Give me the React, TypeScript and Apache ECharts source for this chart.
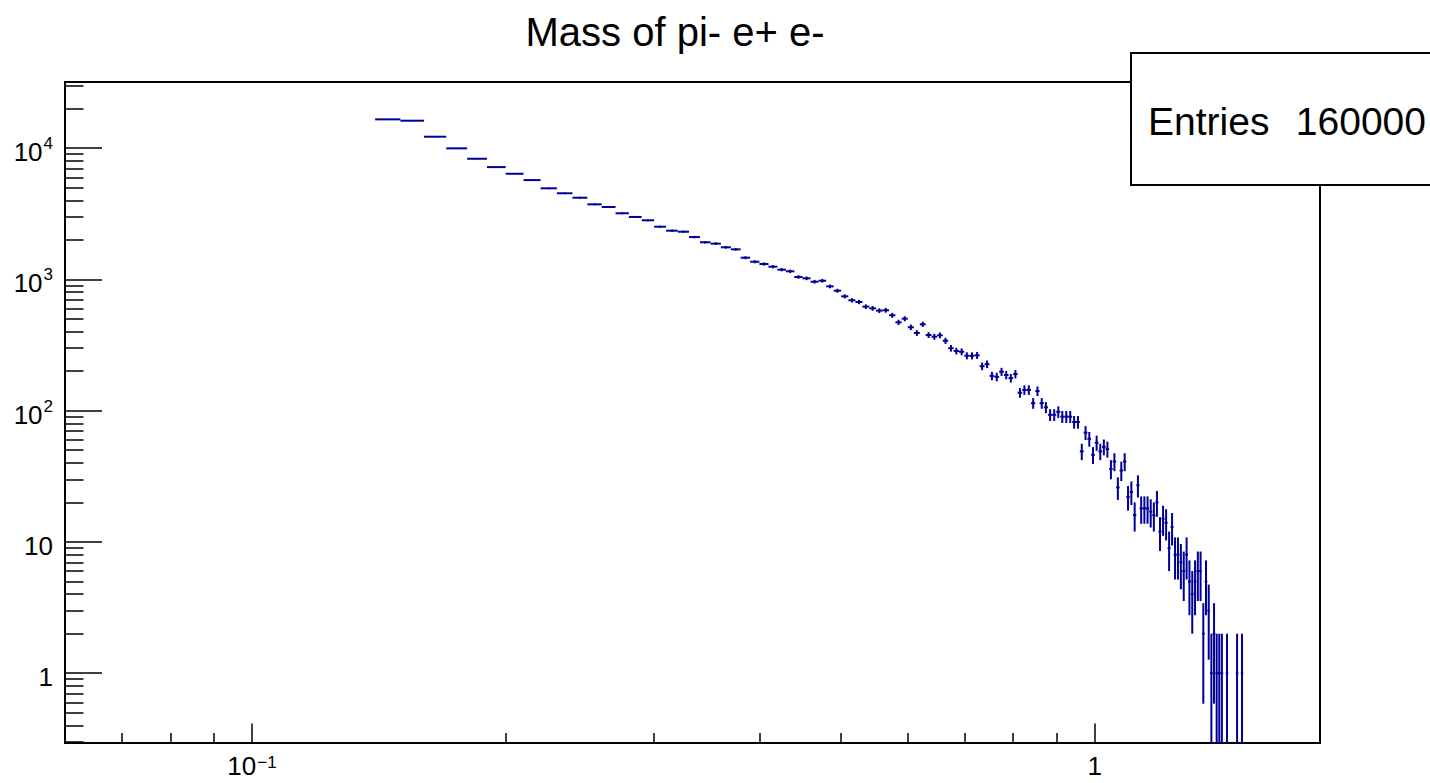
import React, { useEffect, useRef } from 'react';
import * as echarts from 'echarts';

const TITLE = 'Mass of pi- e+ e-';
const STATS_LABEL = 'Entries';
const STATS_VALUE = '160000';

// histogram binning (GeV), constant width bins starting at threshold
const BIN_START = 0.14;
const BIN_WIDTH = 0.01;
// bin contents, bin 1 = [0.14, 0.15)
const COUNTS = [
  16560, 16180, 12220, 9960, 8300, 7170, 6380, 5710, 4940, 4530,
  4190, 3730, 3560, 3190, 2990, 2820, 2520, 2350, 2308, 2102,
  1918, 1872, 1756, 1694, 1463, 1363, 1310, 1250, 1186, 1153,
  1043, 1019, 960, 977, 885, 820, 743, 693, 673, 620,
  602, 578, 582, 533, 471, 502, 432, 391, 455, 377,
  366, 375, 341, 299, 285, 281, 262, 262, 264, 218,
  226, 184, 181, 198, 187, 177, 190, 137, 144, 144,
  114, 141, 114, 106, 93, 93, 98, 90, 90, 90,
  82, 82, 49, 68, 61, 46, 57, 49, 53, 51,
  36, 41, 26, 35, 41, 22, 24, 16, 27, 18,
  18, 18, 17, 16, 20, 12, 15, 14, 9, 13,
  8, 8, 7, 6, 8, 5, 4, 5, 6, 6,
  2, 5, 3, 1, 2, 1, 1, 1, 0, 1,
  0, 0, 0, 1, 0, 1,
];

const X_RANGE = [0.06, 1.85];
const Y_RANGE = [0.294, 31900];
const X_MAJOR = [0.1, 1];
const X_MINOR = [0.07, 0.08, 0.09, 0.2, 0.3, 0.4, 0.5, 0.6, 0.7, 0.8, 0.9];
const Y_MAJOR = [1, 10, 100, 1000, 10000];
const Y_MINOR = [
  0.3, 0.4, 0.5, 0.6, 0.7, 0.8, 0.9,
  2, 3, 4, 5, 6, 7, 8, 9,
  20, 30, 40, 50, 60, 70, 80, 90,
  200, 300, 400, 500, 600, 700, 800, 900,
  2000, 3000, 4000, 5000, 6000, 7000, 8000, 9000,
  20000, 30000,
];

const FONT = '"Liberation Sans", Arial, Helvetica, sans-serif';
const INK = '#000099';

function powLabel(v: number): string {
  const e = Math.round(Math.log10(v));
  if (e === 0) return '{b|1}';
  if (e === 1) return '{b|10}';
  return '{b|10}{s|' + (e < 0 ? '\u2212' + String(-e) : String(e)) + '}';
}

const richY = {
  b: { fontSize: 26, fontFamily: FONT, color: '#000', lineHeight: 30, verticalAlign: 'bottom' },
  s: { fontSize: 17, fontFamily: FONT, color: '#000', lineHeight: 17, verticalAlign: 'top', padding: [0, 0, 0, 1] },
};

const richX = {
  b: { fontSize: 26, fontFamily: FONT, color: '#000', lineHeight: 18, verticalAlign: 'bottom' },
  s: { fontSize: 17, fontFamily: FONT, color: '#000', lineHeight: 12, verticalAlign: 'bottom', padding: [0, 0, 8, 1] },
};

export default function App() {
  const ref = useRef<HTMLDivElement>(null);

  useEffect(() => {
    if (!ref.current) return;
    const chart = echarts.init(ref.current, null, { renderer: 'svg' });

    const data: number[][] = [];
    COUNTS.forEach((n, i) => {
      if (n > 0) {
        const lo = +(BIN_START + i * BIN_WIDTH).toFixed(4);
        const hi = +(lo + BIN_WIDTH).toFixed(4);
        data.push([lo, hi, n]);
      }
    });

    const logAxisBase = {
      type: 'log' as const,
      logBase: 10,
      axisLine: { show: false },
      splitLine: { show: false },
      minorTick: { show: false },
    };

    chart.setOption({
      animation: false,
      backgroundColor: '#fff',
      grid: {
        left: 65, right: 110, top: 82, bottom: 40,
        containLabel: false, outerBoundsMode: 'none',
        show: true, borderColor: '#000', borderWidth: 2, backgroundColor: '#fff',
      },
      xAxis: [
        {
          ...logAxisBase,
          min: X_RANGE[0], max: X_RANGE[1], position: 'bottom',
          axisTick: { show: true, inside: true, length: 19.5, customValues: X_MAJOR, lineStyle: { color: '#000', width: 1.5 } },
          axisLabel: {
            show: true, customValues: X_MAJOR, margin: 18, verticalAlign: 'top',
            formatter: (v: number) => powLabel(v), rich: richX,
          },
        },
        {
          ...logAxisBase,
          min: X_RANGE[0], max: X_RANGE[1], position: 'bottom', offset: 0,
          axisTick: { show: true, inside: true, length: 10, customValues: X_MINOR, lineStyle: { color: '#000', width: 1.5 } },
          axisLabel: { show: false },
        },
      ],
      yAxis: [
        {
          ...logAxisBase,
          min: Y_RANGE[0], max: Y_RANGE[1], position: 'left',
          axisTick: { show: true, inside: true, length: 37, customValues: Y_MAJOR, lineStyle: { color: '#000', width: 1.5 } },
          axisLabel: {
            show: true, customValues: Y_MAJOR, margin: 12, padding: [4, 0, 0, 0],
            formatter: (v: number) => powLabel(v), rich: richY,
          },
        },
        {
          ...logAxisBase,
          min: Y_RANGE[0], max: Y_RANGE[1], position: 'left', offset: 0,
          axisTick: { show: true, inside: true, length: 18.5, customValues: Y_MINOR, lineStyle: { color: '#000', width: 1.5 } },
          axisLabel: { show: false },
        },
      ],
      series: [
        {
          type: 'custom',
          name: TITLE,
          xAxisIndex: 0,
          yAxisIndex: 0,
          clip: true,
          encode: { x: [0, 1], y: 2 },
          data,
          renderItem: (params: any, api: any) => {
            const lo = api.value(0);
            const hi = api.value(1);
            const n = api.value(2);
            const c = (lo + hi) / 2;
            const e = Math.sqrt(n);
            const cs = params.coordSys;
            const bottom = cs.y + cs.height;
            const pL = api.coord([lo, n]);
            const pR = api.coord([hi, n]);
            const top = api.coord([c, n + e]);
            let botY = bottom;
            if (n - e > 0) botY = Math.min(bottom, api.coord([c, n - e])[1]);
            const style = { stroke: INK, lineWidth: 2, fill: null };
            return {
              type: 'group',
              children: [
                { type: 'line', shape: { x1: pL[0], y1: pL[1], x2: pR[0], y2: pR[1] }, style },
                { type: 'line', shape: { x1: top[0], y1: Math.max(cs.y, top[1]), x2: top[0], y2: botY }, style },
              ],
            };
          },
        },
      ],
      graphic: [
        {
          type: 'text', x: 675, y: 32, z: 100,
          style: { text: TITLE, fontSize: 40, fontFamily: FONT, fill: '#000', textAlign: 'center', verticalAlign: 'middle', textVerticalAlign: 'middle' },
        },
        {
          type: 'rect', z: 100,
          shape: { x: 1131, y: 53, width: 320, height: 132 },
          style: { fill: '#fff', stroke: '#000', lineWidth: 2 },
        },
        {
          type: 'text', x: 1148, y: 121, z: 101,
          style: { text: STATS_LABEL, fontSize: 39, fontFamily: FONT, fill: '#000', textAlign: 'left', verticalAlign: 'middle', textVerticalAlign: 'middle' },
        },
        {
          type: 'text', x: 1426, y: 121, z: 101,
          style: { text: STATS_VALUE, fontSize: 39, fontFamily: FONT, fill: '#000', textAlign: 'right', verticalAlign: 'middle', textVerticalAlign: 'middle' },
        },
      ],
    });

    return () => chart.dispose();
  }, []);

  return (
    <div
      ref={ref}
      style={{ position: 'fixed', left: 0, top: 0, width: 1430, height: 783, background: '#fff' }}
    />
  );
}
